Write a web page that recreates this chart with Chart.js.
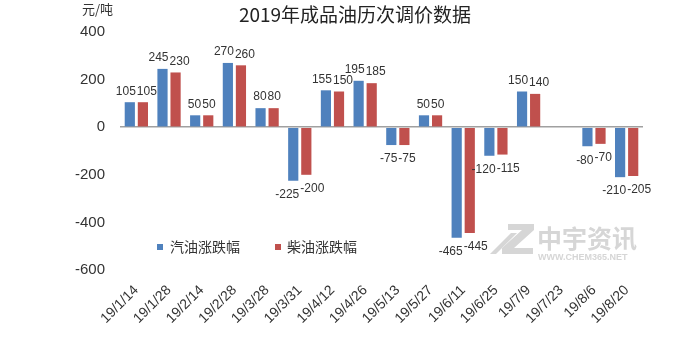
<!DOCTYPE html>
<html>
<head>
<meta charset="utf-8">
<script src="https://cdn.jsdelivr.net/npm/chart.js@4/dist/chart.umd.min.js"></script>
<style>
  html, body { margin: 0; padding: 0; background: #fff; }
  #wrap { width: 680px; height: 337px; position: relative; }
</style>
</head>
<body>
<div id="wrap"><canvas id="c" width="680" height="337"></canvas></div>
<script>
// Price adjustment dates (2019)
const dates = ['19/1/14', '19/1/28', '19/2/14', '19/2/28', '19/3/28', '19/3/31', '19/4/12', '19/4/26',
  '19/5/13', '19/5/27', '19/6/11', '19/6/25', '19/7/9', '19/7/23', '19/8/6', '19/8/20'];
// Gasoline change per adjustment (yuan/ton); null = no adjustment
const gasoline = [105, 245, 50, 270, 80, -225, 155, 195, -75, 50, -465, -120, 150, null, -80, -210];
// Diesel change per adjustment (yuan/ton)
const diesel = [105, 230, 50, 260, 80, -200, 150, 185, -75, 50, -445, -115, 140, null, -70, -205];
// Value axis ticks
const yTicks = [-600, -400, -200, 0, 200, 400];
const seriesNames = ['汽油涨跌幅', '柴油涨跌幅'];

const TEXT = '#333333';
const NUM_FONT = '"Liberation Sans", Arial, sans-serif';
const CJK_FONT = '"Noto Sans CJK SC", "Noto Sans", sans-serif';

// Title, unit, legend and the publisher mark
const decorations = {
  id: 'decorations',
  beforeDatasetsDraw(chart) {
    const ctx = chart.ctx;
    ctx.save();
    // publisher mark
    ctx.fillStyle = '#d6d6d6';
    ctx.beginPath();
    ctx.moveTo(508, 224); ctx.lineTo(534, 224); ctx.lineTo(534, 230);
    ctx.lineTo(514, 248); ctx.lineTo(533, 248); ctx.lineTo(533, 254);
    ctx.lineTo(502, 254); ctx.lineTo(502, 248); ctx.lineTo(522, 230); ctx.lineTo(508, 230);
    ctx.closePath(); ctx.fill();
    ctx.beginPath();
    ctx.moveTo(511, 233); ctx.lineTo(517, 233); ctx.lineTo(496, 254); ctx.lineTo(490, 254);
    ctx.closePath(); ctx.fill();
    ctx.font = 'bold 25px ' + CJK_FONT;
    ctx.textAlign = 'left';
    ctx.textBaseline = 'middle';
    ctx.fillText('中宇资讯', 537, 238);
    ctx.font = 'bold 9px ' + NUM_FONT;
    ctx.fillText('WWW.CHEM365.NET', 538, 258);
    ctx.restore();
  },
  afterDraw(chart) {
    const ctx = chart.ctx;
    ctx.save();
    ctx.fillStyle = '#222';
    ctx.textAlign = 'center';
    ctx.textBaseline = 'middle';
    ctx.font = '19px ' + CJK_FONT;
    ctx.fillText('2019年成品油历次调价数据', 355, 15);
    ctx.textAlign = 'left';
    ctx.fillStyle = TEXT;
    ctx.font = '13px ' + CJK_FONT;
    ctx.fillText('元/吨', 82, 9);
    // legend
    const items = [[157, 170], [275, 287]];
    ctx.font = '14px ' + CJK_FONT;
    chart.data.datasets.forEach((ds, i) => {
      ctx.fillStyle = ds.backgroundColor;
      ctx.fillRect(items[i][0], 244, 6, 6);
      ctx.fillStyle = TEXT;
      ctx.fillText(ds.label, items[i][1], 247);
    });
    ctx.restore();
  }
};

// Value labels above positive bars and below negative bars
const valueLabels = {
  id: 'valueLabels',
  afterDatasetsDraw(chart) {
    const ctx = chart.ctx;
    ctx.save();
    ctx.font = '12px ' + NUM_FONT;
    ctx.fillStyle = TEXT;
    ctx.textAlign = 'center';
    const metas = [chart.getDatasetMeta(0), chart.getDatasetMeta(1)];
    chart.data.labels.forEach((_, i) => {
      const items = metas.map((m, d) => {
        const v = chart.data.datasets[d].data[i];
        if (v === null || v === undefined) return null;
        const el = m.data[i];
        const txt = String(v);
        return { v, txt, x: el.x, y: el.y, w: ctx.measureText(txt).width };
      });
      if (items[0] && items[1]) {
        const overlap = (items[0].x + items[0].w / 2) - (items[1].x - items[1].w / 2) + 1;
        if (overlap > 0) { items[0].x -= overlap / 2; items[1].x += overlap / 2; }
      }
      items.forEach(it => {
        if (!it) return;
        if (it.v >= 0) {
          ctx.textBaseline = 'bottom';
          ctx.fillText(it.txt, it.x, it.y - 5);
        } else {
          ctx.textBaseline = 'top';
          ctx.fillText(it.txt, it.x, it.y + 8);
        }
      });
    });
    ctx.restore();
  }
};

new Chart(document.getElementById('c'), {
  type: 'bar',
  data: {
    labels: dates,
    datasets: [
      { label: seriesNames[0], data: gasoline, backgroundColor: '#4F81BD',
        categoryPercentage: 0.8, barPercentage: 0.78 },
      { label: seriesNames[1], data: diesel, backgroundColor: '#C0504D',
        categoryPercentage: 0.8, barPercentage: 0.78 }
    ]
  },
  options: {
    responsive: false,
    animation: false,
    devicePixelRatio: 1,
    layout: { padding: { top: 32, right: 37, bottom: 0, left: 0 } },
    plugins: { legend: { display: false }, tooltip: { enabled: false }, title: { display: false } },
    scales: {
      x: {
        grid: { display: false, drawTicks: false },
        border: { display: false },
        ticks: {
          autoSkip: false, maxRotation: 45, minRotation: 45, padding: 12,
          color: TEXT, font: { family: NUM_FONT, size: 14 }
        },
        afterFit(s) { s.height = 67; }
      },
      y: {
        min: -600, max: 400,
        afterBuildTicks(s) { s.ticks = yTicks.map(v => ({ value: v })); },
        grid: {
          drawTicks: false,
          color: c => (c.tick && c.tick.value === 0 ? '#a0a0a0' : 'rgba(0,0,0,0)'),
          lineWidth: c => (c.tick && c.tick.value === 0 ? 1.5 : 0)
        },
        border: { display: false },
        ticks: { padding: 15, color: TEXT, font: { family: NUM_FONT, size: 15 } },
        afterFit(s) { s.width = 120; }
      }
    }
  },
  plugins: [decorations, valueLabels]
});
</script>
</body>
</html>
